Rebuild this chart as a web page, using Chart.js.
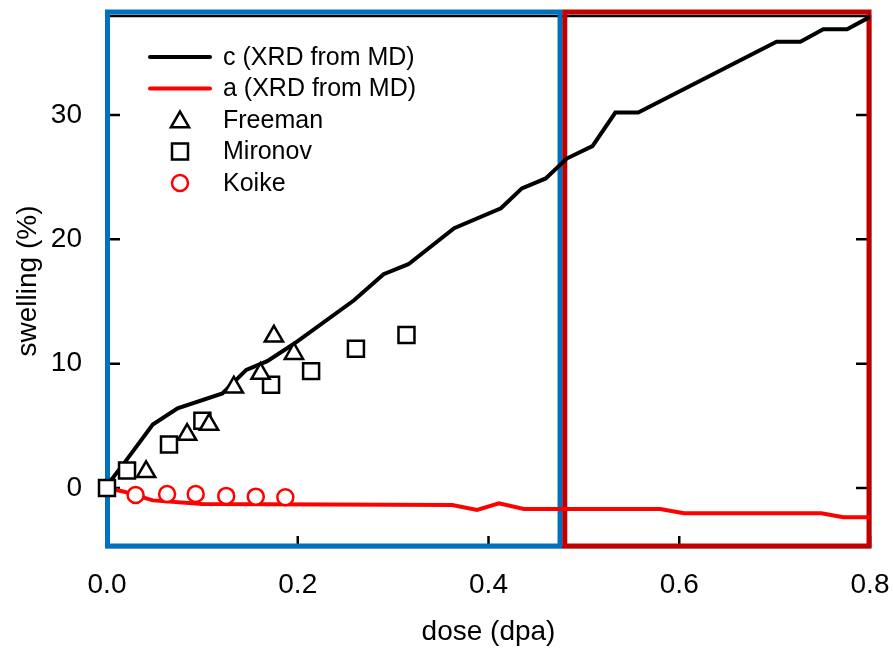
<!DOCTYPE html>
<html>
<head>
<meta charset="utf-8">
<script src="https://cdn.jsdelivr.net/npm/chart.js@4/dist/chart.umd.min.js"></script>
<style>
  html, body { margin: 0; padding: 0; background: #fff; }
  #chart { display: block; }
</style>
</head>
<body>
<canvas id="chart" width="893" height="651"></canvas>
<script>
// c (XRD from MD) - black line
const cDose = [0, 0.006, 0.018, 0.048, 0.074, 0.121, 0.146, 0.168, 0.196, 0.259, 0.29, 0.316, 0.364, 0.413, 0.435, 0.46, 0.482, 0.509, 0.533, 0.557, 0.702, 0.727, 0.751, 0.776, 0.8];
const cSwelling = [0.2, 0.8, 2.0, 5.1, 6.4, 7.6, 9.5, 10.2, 11.6, 15.1, 17.2, 18.0, 20.9, 22.5, 24.1, 24.9, 26.5, 27.5, 30.2, 30.2, 35.9, 35.9, 36.9, 36.9, 37.9];

// a (XRD from MD) - red line
const aDose = [0, 0.018, 0.048, 0.1, 0.362, 0.388, 0.411, 0.437, 0.58, 0.605, 0.749, 0.772, 0.8];
const aSwelling = [0, -0.3, -1.0, -1.3, -1.37, -1.77, -1.23, -1.69, -1.69, -2.04, -2.04, -2.36, -2.36];

// experiments
const freemanDose = [0.041, 0.084, 0.107, 0.133, 0.161, 0.175, 0.196];
const freemanSwelling = [1.3, 4.3, 5.1, 8.1, 9.2, 12.2, 10.8];
const mironovDose = [0.0, 0.021, 0.065, 0.1, 0.172, 0.214, 0.261, 0.314];
const mironovSwelling = [0.0, 1.4, 3.5, 5.4, 8.3, 9.4, 11.2, 12.3];
const koikeDose = [0.03, 0.063, 0.093, 0.125, 0.156, 0.187];
const koikeSwelling = [-0.56, -0.48, -0.48, -0.64, -0.7, -0.75];

const xTicks = [0, 0.2, 0.4, 0.6, 0.8];
const yTicks = [0, 10, 20, 30];

// outlined dose ranges
const regions = [
  { from: 0, to: 0.475, color: "#0070C0" },
  { from: 0.48, to: 0.8, color: "#C00000" },
];

const FONT = "Arial, 'Liberation Sans', sans-serif";

const toPoints = (xs, ys) => xs.map((x, i) => ({ x: x, y: ys[i] }));

const datasets = [
  {
    label: "Freeman",
    data: toPoints(freemanDose, freemanSwelling),
    showLine: false,
    pointStyle: "triangle",
    pointRadius: 10.5,
    pointBorderWidth: 2.5,
    pointBorderColor: "#000",
    pointBackgroundColor: "#fff",
    clip: false,
    order: 1,
  },
  {
    label: "Mironov",
    data: toPoints(mironovDose, mironovSwelling),
    showLine: false,
    pointStyle: "rect",
    pointRadius: 11.3,
    pointBorderWidth: 2.5,
    pointBorderColor: "#000",
    pointBackgroundColor: "#fff",
    clip: false,
    order: 1,
  },
  {
    label: "Koike",
    data: toPoints(koikeDose, koikeSwelling),
    showLine: false,
    pointStyle: "circle",
    pointRadius: 8,
    pointBorderWidth: 2.5,
    pointBorderColor: "#FF0000",
    pointBackgroundColor: "#fff",
    clip: false,
    order: 1,
  },
  {
    label: "c (XRD from MD)",
    data: toPoints(cDose, cSwelling),
    showLine: true,
    borderColor: "#000",
    borderWidth: 4,
    pointRadius: 0,
    tension: 0,
    order: 2,
  },
  {
    label: "a (XRD from MD)",
    data: toPoints(aDose, aSwelling),
    showLine: true,
    borderColor: "#FF0000",
    borderWidth: 4,
    pointRadius: 0,
    tension: 0,
    order: 2,
  },
];

// frame, inside ticks, coloured boxes
const framePlugin = {
  id: "frame",
  beforeDatasetsDraw(chart) {
    const { ctx, chartArea: a, scales } = chart;
    ctx.save();
    ctx.strokeStyle = "#000";
    ctx.lineWidth = 2.5;
    ctx.strokeRect(a.left, a.top + 1, a.right - a.left, a.bottom - a.top - 1);
    ctx.beginPath();
    yTicks.forEach((v) => {
      const y = scales.y.getPixelForValue(v);
      ctx.moveTo(a.left, y);
      ctx.lineTo(a.left + 13, y);
      ctx.moveTo(a.right, y);
      ctx.lineTo(a.right - 14, y);
    });
    xTicks.forEach((v) => {
      const x = scales.x.getPixelForValue(v);
      ctx.moveTo(x, a.bottom);
      ctx.lineTo(x, a.bottom - 11);
    });
    ctx.stroke();
    ctx.lineWidth = 5;
    regions.forEach((r) => {
      const x0 = Math.max(scales.x.getPixelForValue(r.from), a.left + 0.5);
      const x1 = Math.min(scales.x.getPixelForValue(r.to), a.right - 1);
      ctx.strokeStyle = r.color;
      ctx.strokeRect(x0, a.top - 3, x1 - x0, a.bottom - 1 - (a.top - 3));
    });
    ctx.restore();
  },
};

// legend inside the plot, upper left
const legendPlugin = {
  id: "insideLegend",
  afterDraw(chart) {
    const { ctx, chartArea: a } = chart;
    const order = [3, 4, 0, 1, 2];
    const x0 = a.left + 43;
    const y0 = a.top + 42;
    const step = 31.5;
    ctx.save();
    ctx.font = "25px " + FONT;
    ctx.textBaseline = "middle";
    order.forEach((idx, row) => {
      const ds = chart.data.datasets[idx];
      const y = y0 + row * step;
      if (ds.showLine) {
        ctx.strokeStyle = ds.borderColor;
        ctx.lineWidth = 4;
        ctx.lineCap = "round";
        ctx.beginPath();
        ctx.moveTo(x0, y);
        ctx.lineTo(x0 + 60, y);
        ctx.stroke();
      } else {
        ctx.strokeStyle = ds.pointBorderColor;
        ctx.fillStyle = ds.pointBackgroundColor;
        ctx.lineWidth = ds.pointBorderWidth;
        const cy = ds.pointStyle === "triangle" ? y + 2 : y;
        Chart.helpers.drawPoint(ctx, { pointStyle: ds.pointStyle, radius: ds.pointRadius, rotation: 0, borderWidth: ds.pointBorderWidth }, x0 + 30, cy);
      }
      ctx.fillStyle = "#000";
      ctx.fillText(ds.label, x0 + 73, y + 1);
    });
    ctx.restore();
  },
};

new Chart(document.getElementById("chart"), {
  type: "scatter",
  data: { datasets: datasets },
  options: {
    responsive: false,
    animation: false,
    events: [],
    layout: { padding: { top: 15, right: 23, left: 0, bottom: 0 } },
    plugins: {
      legend: { display: false },
      tooltip: { enabled: false },
    },
    scales: {
      x: {
        type: "linear",
        min: 0,
        max: 0.8,
        afterFit: (s) => { s.height = 104; s.paddingLeft = 0; s.paddingRight = 0; },
        afterBuildTicks: (s) => { s.ticks = xTicks.map((v) => ({ value: v })); },
        grid: { display: false },
        border: { display: false },
        ticks: {
          color: "#000",
          font: { family: FONT, size: 28 },
          padding: 13,
          maxRotation: 0,
          callback: (v) => Number(v).toFixed(1),
        },
        title: {
          display: true,
          text: "dose (dpa)",
          color: "#000",
          font: { family: FONT, size: 28 },
          padding: { top: 0, bottom: 2 },
        },
      },
      y: {
        type: "linear",
        min: -4.75,
        max: 38.05,
        afterFit: (s) => { s.width = 107; s.paddingTop = 0; s.paddingBottom = 0; },
        afterBuildTicks: (s) => { s.ticks = yTicks.map((v) => ({ value: v })); },
        grid: { display: false },
        border: { display: false },
        ticks: {
          color: "#000",
          font: { family: FONT, size: 28 },
          padding: 17,
        },
        title: {
          display: true,
          text: "swelling (%)",
          color: "#000",
          font: { family: FONT, size: 28 },
          padding: { top: 11, bottom: 0 },
        },
      },
    },
  },
  plugins: [framePlugin, legendPlugin],
});
</script>
</body>
</html>
